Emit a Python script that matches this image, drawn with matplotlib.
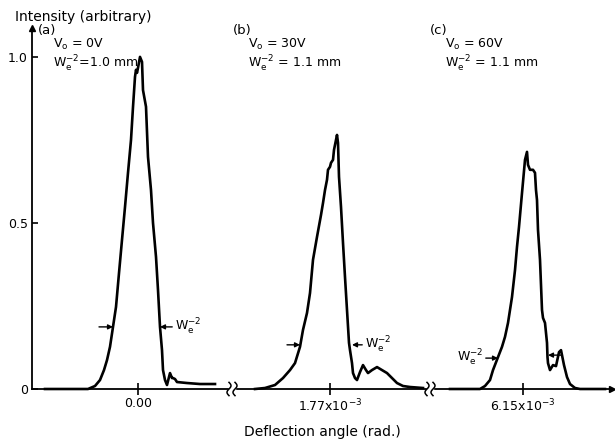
import numpy as np
import matplotlib
matplotlib.use('Agg')
from matplotlib import pyplot as plt

# Traced intensity profiles (offset along the broken axis, intensity)
# (a) Vo = 0 V
a_off = [-93, -50, -43, -38, -34, -31, -28, -25, -22, -19, -16, -13, -10, -7, -5, -3, -2, -1, 0, 2,
         4, 5, 8, 10, 13, 15, 18, 20, 22, 24, 25, 27, 29, 32, 34, 35, 37, 39, 49, 62, 77]
a_int = [0, 0, 0.009, 0.027, 0.057, 0.087, 0.127, 0.187, 0.247, 0.349, 0.449, 0.548, 0.651, 0.75, 0.849, 0.94, 0.961, 0.952, 0.967, 1.0,
         0.985, 0.9, 0.85, 0.699, 0.599, 0.5, 0.398, 0.298, 0.187, 0.117, 0.057, 0.027, 0.012, 0.048, 0.033, 0.033, 0.030, 0.021, 0.018, 0.015, 0.015]

# (b) Vo = 30 V
b_off = [-75, -65, -55, -47, -40, -35, -30, -27, -23, -20, -17, -13, -9, -7, -5, -3, -2, 0, 1, 3,
         4, 6, 7, 8, 9, 11, 13, 15, 17, 19, 20, 22, 23, 25, 27, 30, 33, 36, 38, 42, 47, 52, 57, 62, 67, 73, 80, 93]
b_int = [0, 0.003, 0.012, 0.033, 0.057, 0.078, 0.127, 0.178, 0.229, 0.289, 0.389, 0.458, 0.524, 0.56, 0.599, 0.63, 0.66, 0.669, 0.681, 0.69,
         0.72, 0.75, 0.765, 0.741, 0.639, 0.548, 0.44, 0.337, 0.238, 0.139, 0.117, 0.078, 0.048, 0.033, 0.027, 0.051, 0.072, 0.057, 0.048, 0.057, 0.066, 0.057, 0.048, 0.033, 0.018, 0.009, 0.006, 0.003]

# (c) Vo = 60 V
c_off = [-73, -43, -38, -33, -30, -25, -21, -18, -15, -11, -8, -6, -4, -1, 2, 4, 5, 7, 10, 12,
         13, 14, 15, 17, 19, 20, 22, 24, 24.5, 25, 27, 30, 33, 36, 38, 41, 44, 47, 52, 57, 82]
c_int = [0, 0, 0.009, 0.027, 0.057, 0.096, 0.127, 0.157, 0.199, 0.277, 0.358, 0.428, 0.488, 0.59, 0.69, 0.714, 0.675, 0.66, 0.66, 0.651,
         0.599, 0.569, 0.479, 0.389, 0.238, 0.214, 0.199, 0.139, 0.096, 0.078, 0.057, 0.072, 0.069, 0.111, 0.117, 0.072, 0.036, 0.015, 0.003, 0, 0]

tick_labels = ['0.00', '1.77x10$^{-3}$', '6.15x10$^{-3}$']
panel_titles = ['(a)', '(b)', '(c)']
panel_vo = ['V$_\\mathrm{o}$ = 0V', 'V$_\\mathrm{o}$ = 30V', 'V$_\\mathrm{o}$ = 60V']
panel_w = ['W$_\\mathrm{e}^{-2}$=1.0 mm', 'W$_\\mathrm{e}^{-2}$ = 1.1 mm', 'W$_\\mathrm{e}^{-2}$ = 1.1 mm']

# where each panel sits on the broken axis
centres = [138, 330, 523]
breaks = [232, 430]

fig = plt.figure(figsize=(6.15, 4.4), dpi=100)
ax = fig.add_axes([32/615, 51/440, 580/615, 361/440])
ax.set_xlim(32, 612)
ax.set_ylim(0, 1.087)

lw = 1.9
for c, off, inten in zip(centres, [a_off, b_off, c_off], [a_int, b_int, c_int]):
    ax.plot(np.array(off) + c, inten, color='black', lw=lw, solid_joinstyle='round', clip_on=False)

# spines and arrows
for s in ['top', 'right']:
    ax.spines[s].set_visible(False)
ax.spines['left'].set_linewidth(1.3)
ax.spines['bottom'].set_linewidth(1.3)
ax.plot(1, 0, marker='>', color='black', ms=5, transform=ax.transAxes, clip_on=False)
ax.plot(0, 1, marker='^', color='black', ms=4, transform=ax.transAxes, clip_on=False)

ax.set_yticks([0, 0.5, 1.0])
ax.set_yticklabels(['0', '0.5', '1.0'])
ax.tick_params(axis='y', direction='in', length=4, width=1.2, pad=3, labelsize=9)
ax.set_xticks(centres)
ax.set_xticklabels(tick_labels)
ax.tick_params(axis='x', direction='inout', length=8, width=1.2, pad=2, labelsize=9)

# axis break marks
for b in breaks:
    t = np.linspace(-1, 1, 30)
    ax.fill_between([b - 3, b + 3], -0.005, 0.005, color='white', zorder=3, clip_on=False)
    for dx in [-3, 3]:
        ax.plot(b + dx + 2 * np.sin(np.pi * t), 0.02 * t, color='black', lw=1.1, zorder=4, clip_on=False)

# labels
fig.text(15/615, 1 - 17/440, 'Intensity (arbitrary)', fontsize=10, va='center', ha='left')
ax.set_xlabel('Deflection angle (rad.)', fontsize=10, labelpad=8)

title_x = [38, 233, 430]
for tx, t, vo, w in zip(title_x, panel_titles, panel_vo, panel_w):
    ax.text(tx, (389 - 31) / 332, t, fontsize=9.5, va='center', ha='left')
    ax.text(tx + 15, (389 - 45) / 332, vo, fontsize=9, va='center', ha='left')
    ax.text(tx + 15, (389 - 64) / 332, w, fontsize=9, va='center', ha='left')

# W_e^-2 width markers
arr = dict(arrowstyle='-|>', color='black', lw=1.0, mutation_scale=7, shrinkA=0, shrinkB=0)
we = 'W$_\\mathrm{e}^{-2}$'
ax.annotate('', xy=(113, 0.187), xytext=(99, 0.187), arrowprops=arr)
ax.annotate(we, xy=(160, 0.187), xytext=(175, 0.187), arrowprops=arr, fontsize=9, va='center')
ax.annotate('', xy=(300, 0.133), xytext=(287, 0.133), arrowprops=arr)
ax.annotate(we, xy=(352, 0.133), xytext=(365, 0.133), arrowprops=arr, fontsize=9, va='center')
ax.annotate(we, xy=(498, 0.093), xytext=(483, 0.093), arrowprops=arr, fontsize=9, va='center', ha='right')
ax.annotate('', xy=(548, 0.102), xytext=(561, 0.102), arrowprops=arr)

plt.savefig('out.png', dpi=100)
